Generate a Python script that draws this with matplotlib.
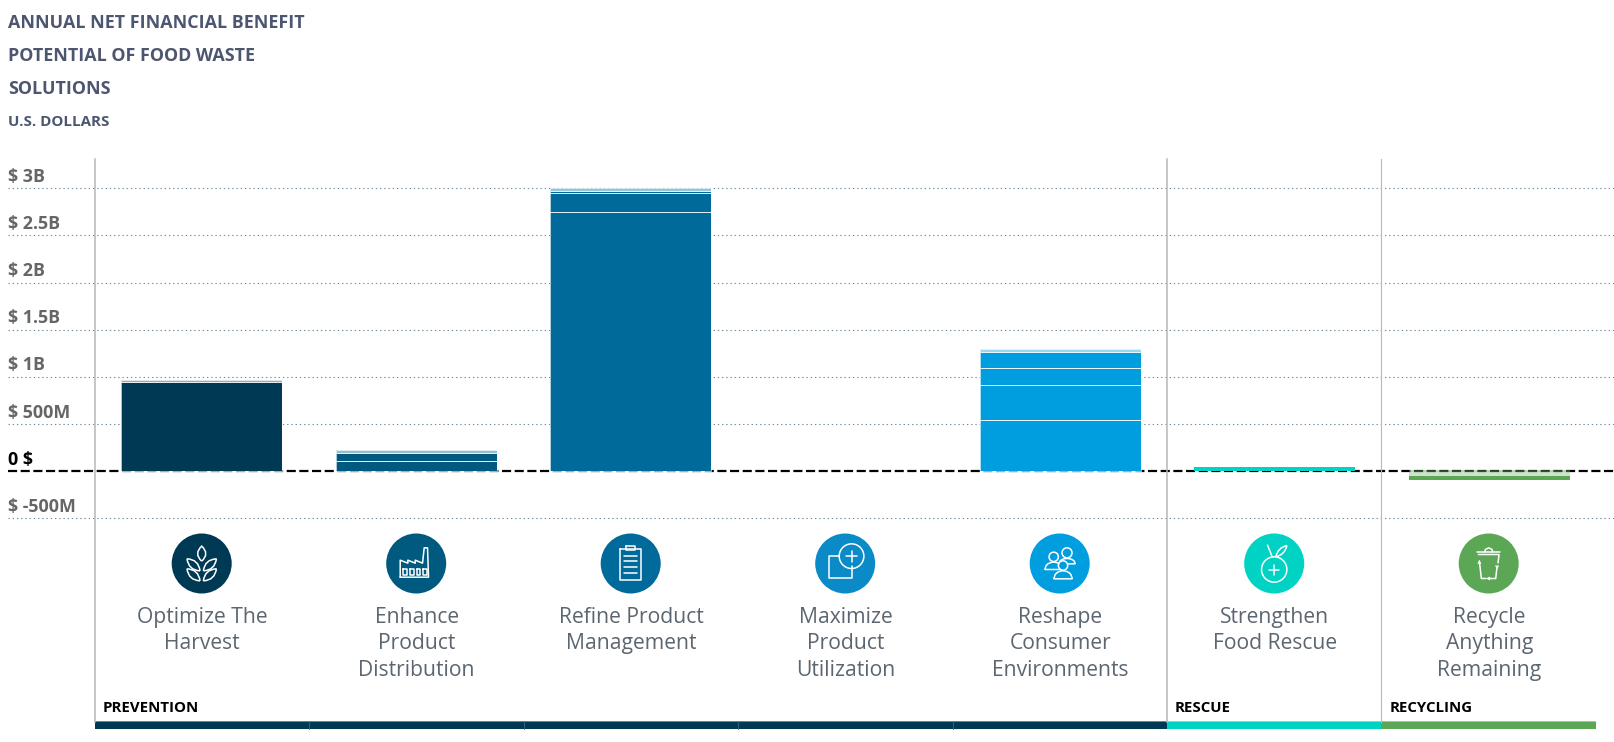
import matplotlib
matplotlib.use("Agg")
import matplotlib.pyplot as plt
from matplotlib.patches import Circle, Rectangle, PathPatch, Polygon
from matplotlib.path import Path

plt.rcParams['font.family'] = ['Open Sans', 'DejaVu Sans']

# data, millions of dollars, stacked from the zero line outwards
categories = ["Optimize The\nHarvest", "Enhance\nProduct\nDistribution", "Refine Product\nManagement",
              "Maximize\nProduct\nUtilization", "Reshape\nConsumer\nEnvironments",
              "Strengthen\nFood Rescue", "Recycle\nAnything\nRemaining"]
harvest = [950, 15]
distribution = [113, 85, 32]
product_mgmt = [2750, 198, 22, 30]
utilization = []
consumer = [548, 367, 184, 165, 29]
food_rescue = [42]
recycle_up = [12]
recycle_down = [-10, -42, -45]

tick_values = [3000, 2500, 2000, 1500, 1000, 500, 0, -500]
tick_labels = ["$ 3B", "$ 2.5B", "$ 2B", "$ 1.5B", "$ 1B", "$ 500M", "0 $", "$ -500M"]
group_names = ["PREVENTION", "RESCUE", "RECYCLING"]
group_spans = [5, 1, 1]
title_lines = ["ANNUAL NET FINANCIAL BENEFIT", "POTENTIAL OF FOOD WASTE", "SOLUTIONS"]

colors = ["#003953", "#005a80", "#006a9a", "#0a8bc8", "#009ddf", "#00d3c4", "#5ba755"]
W, H = 1615, 742
COL = 214.4
BAR_COL = 214.7
BAR_X0 = 201.4
X0 = 95
ZERO = 471.3
PX_PER_M = 283 / 3000

fig = plt.figure(figsize=(W / 100, H / 100), dpi=100)
ax = fig.add_axes([0, 0, 1, 1])
ax.set_xlim(-BAR_X0 / BAR_COL, (W - BAR_X0) / BAR_COL)
ax.set_ylim(-(H - ZERO) / PX_PER_M, ZERO / PX_PER_M)
ax.axis("off")

# gridlines and zero line
trans = ax.get_yaxis_transform()
for v in tick_values:
    if v == 0:
        continue
    ax.plot([8 / W, 1], [v, v], transform=trans, color="#6f8a98", lw=0.8, dashes=(1.2, 2.6), zorder=1)
ax.plot([8 / W, 1], [0, 0], transform=trans, color="black", lw=1.6, dashes=(4.1, 1.6), zorder=2)


def stack(k, vals, light_last=True, edges=True):
    bottom = 0
    for i, v in enumerate(vals):
        alpha = 0.4 if (light_last and i == len(vals) - 1) else 1
        ax.bar(k, v, 0.75, bottom=bottom, color=colors[k], alpha=alpha, lw=0, zorder=3)
        if edges:
            ax.bar(k, v, 0.75, bottom=bottom, fill=False, edgecolor=(1, 1, 1, 0.7), lw=0.7, zorder=4)
        bottom += v


stack(0, harvest)
stack(1, distribution)
stack(2, product_mgmt)
stack(3, utilization)
stack(4, consumer)
stack(5, food_rescue, light_last=False, edges=False)

# recycling bar goes both ways from zero, with its own tints
stack(6, recycle_up, edges=False)
bottom = 0
for v, a in zip(recycle_down, [0.5, 0.3, 1]):
    ax.bar(6, v, 0.75, bottom=bottom, color=colors[6], alpha=a, lw=0, zorder=3)
    bottom += v

# pixel overlay for labels, icons and the bottom band
px = fig.add_axes([0, 0, 1, 1])
px.set_xlim(0, W)
px.set_ylim(H, 0)
px.axis("off")
px.patch.set_alpha(0)

title_color = "#4d5670"
for line, y in zip(title_lines, [23.5, 56.3, 89.3]):
    px.text(8, y, line, fontsize=12.9, fontweight="bold", color=title_color, va="center")
px.text(8, 122.5, "U.S. DOLLARS", fontsize=10.9, fontweight="bold", color=title_color, va="center")

for v, lab in zip(tick_values, tick_labels):
    px.text(8, ZERO - v * PX_PER_M - 11.5, lab, fontsize=12.9, fontweight="bold",
            color="black" if v == 0 else "#666666", va="center")

for x, lw in [(X0, 1.1), (X0 + 5 * COL, 1.1), (X0 + 6 * COL, 0.8)]:
    px.plot([x, x], [158.5, 722], color="#b7b7b7", lw=lw, zorder=2)

# bottom band
start = 0
band_colors = [colors[0], colors[5], colors[6]]
for name, span, c in zip(group_names, group_spans, band_colors):
    left = X0 + start * COL
    px.add_patch(Rectangle((left, 721), span * COL, 8, color=c, lw=0))
    px.add_patch(Rectangle((left, 721), span * COL, 1, color="white", alpha=0.4, lw=0))
    px.text(left + 8, 708.5, name, fontsize=10.8, fontweight="bold", color="black", va="center")
    for j in range(1, span):
        px.plot([left + j * COL] * 2, [721, 729], color="#3d6a7f", lw=0.6)
    start += span

ICON_X = [201.7 + 214.5 * k for k in range(7)]
ICON_Y = 563.5
S = dict(color="white", lw=1.1, solid_capstyle="round", solid_joinstyle="round", zorder=6)


def stroke(xs, ys, cx, z=6):
    # icon coordinates are pixels x3 in a 70 px box around the circle centre
    px.plot([cx + (x - 103) / 3 for x in xs], [ICON_Y + (y - 102) / 3 for y in ys], **{**S, "zorder": z})


def ring(x, y, r, cx, face="none", z=6):
    px.add_patch(Circle((cx + (x - 103) / 3, ICON_Y + (y - 102) / 3), r / 3, fc=face, ec="white", lw=1.1, zorder=z))


def leaf(p0, p1, bulge, cx):
    mx, my = (p0[0] + p1[0]) / 2, (p0[1] + p1[1]) / 2
    dx, dy = p1[0] - p0[0], p1[1] - p0[1]
    nx, ny = -dy, dx
    pts = [p0, (mx + nx * bulge, my + ny * bulge), p1, (mx - nx * bulge, my - ny * bulge), p0]
    pts = [(cx + (a - 103) / 3, ICON_Y + (b - 102) / 3) for a, b in pts]
    codes = [Path.MOVETO, Path.CURVE3, Path.CURVE3, Path.CURVE3, Path.CURVE3]
    px.add_patch(PathPatch(Path(pts, codes), fc="none", ec="white", lw=1.1, zorder=6))


def wheat(cx):
    leaf((103, 95), (103, 50), 0.55, cx)
    for sign in (-1, 1):
        leaf((103 + sign * 5, 124), (103 + sign * 44, 88), 0.42, cx)
        leaf((103 + sign * 5, 154), (103 + sign * 44, 118), 0.42, cx)


def factory(cx):
    stroke([55, 55, 78, 78, 100, 100, 122, 127, 137, 140, 55],
           [143, 92, 101, 92, 101, 92, 101, 55, 55, 143, 143], cx)
    for x in (63, 84, 104, 124):
        stroke([x, x + 11, x + 11, x, x], [118, 118, 135, 135, 118], cx)


def clipboard(cx):
    stroke([72, 134, 134, 72, 72], [58, 58, 152, 152, 58], cx)
    stroke([90, 116, 116, 90, 90], [48, 48, 62, 62, 48], cx)
    for y in (78, 95, 113, 130):
        stroke([84, 122], [y, y], cx)


def maximize(cx):
    stroke([85, 55, 55, 122, 122], [79, 79, 146, 146, 110], cx)
    ring(122, 80, 37, cx)
    stroke([122, 122], [64, 96], cx)
    stroke([106, 138], [80, 80], cx)


def person(x, y_head, r, y_base, half, cx, bg, z):
    t = [i / 12 for i in range(13)]
    xs = [x - half + 2 * half * u for u in t]
    ys = [y_base - (y_base - y_head - r - 2) * (1 - (2 * u - 1) ** 2) ** 0.5 for u in t]
    px.fill([cx + (a - 103) / 3 for a in xs], [ICON_Y + (b - 102) / 3 for b in ys], fc=bg, ec="white", lw=1.1, zorder=z)
    ring(x, y_head, r, cx, face=bg, z=z)


def people(cx):
    bg = colors[4]
    person(125, 70, 15, 103, 25, cx, bg, 6)
    person(85, 82, 14, 120, 27, cx, bg, 7)
    person(113, 108, 14, 148, 28, cx, bg, 8)


def apple(cx):
    ring(103, 120, 38, cx)
    stroke([103, 103], [105, 135], cx)
    stroke([88, 118], [120, 120], cx)
    stroke([97, 83], [82, 47], cx)
    leaf((108, 82), (141, 48), 0.32, cx)


def recycle(cx):
    stroke([68, 138], [68, 68], cx)
    stroke([91, 93, 103, 113, 115], [68, 60, 55, 60, 68], cx)
    stroke([72, 134, 131], [75, 75, 100], cx)
    stroke([75, 81, 95], [95, 147, 147], cx)
    stroke([105, 124, 128], [147, 147, 112], cx)
    for tri in ([(69, 103), (81, 103), (75, 91)], [(122, 108), (134, 108), (128, 120)],
                [(107, 141), (107, 153), (95, 147)]):
        px.add_patch(Polygon([(cx + (a - 103) / 3, ICON_Y + (b - 102) / 3) for a, b in tri],
                             fc="white", lw=0, zorder=6))


icons = [wheat, factory, clipboard, maximize, people, apple, recycle]
for k, (draw, label) in enumerate(zip(icons, categories)):
    cx = ICON_X[k]
    px.add_patch(Circle((cx, ICON_Y), 30, fc=colors[k], lw=0, zorder=5))
    draw(cx)
    for i, line in enumerate(label.split("\n")):
        px.text(cx + 0.5, 617.5 + i * 26.3, line, fontsize=15.2, color="#5c6670", ha="center", va="center")

fig.savefig("out.png", dpi=100, facecolor="white")
